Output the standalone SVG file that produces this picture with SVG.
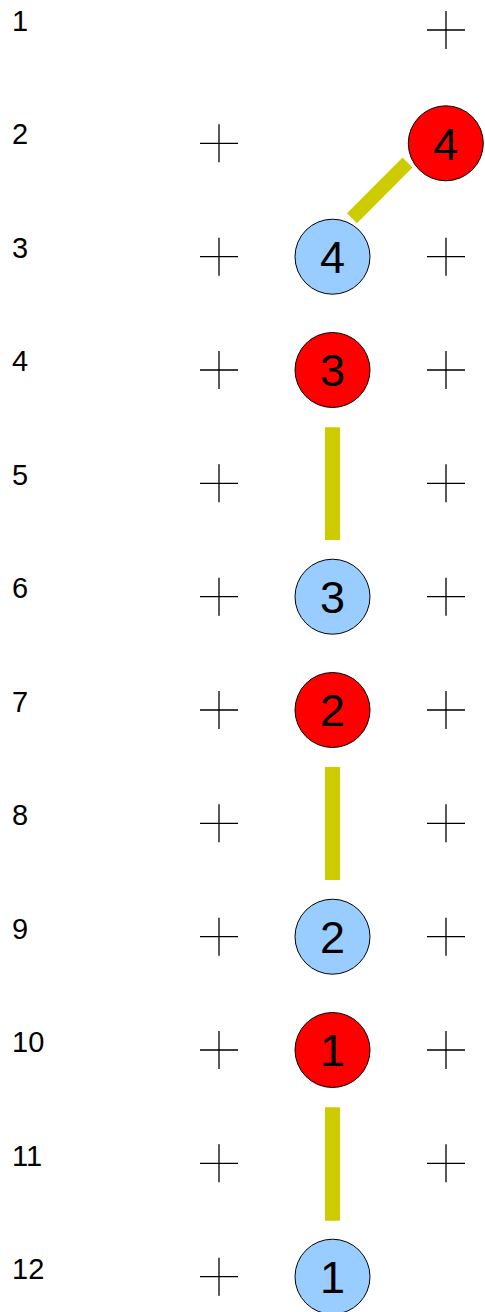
<svg xmlns="http://www.w3.org/2000/svg" width="485" height="1312" viewBox="0 0 485 1312">
<style>
.lbl{font-family:"Liberation Sans",Arial,sans-serif;font-size:29px;fill:#000}
.num{font-family:"Liberation Sans",Arial,sans-serif;font-size:45px;fill:#000;text-anchor:middle}
.red{fill:#ff0000;stroke:#000;stroke-width:1}
.blue{fill:#99ccff;stroke:#000;stroke-width:1}
.cross{stroke:#000;stroke-width:1.3;fill:none}
.bar{stroke:#cccc00;stroke-width:15;stroke-linecap:butt}
</style>
<defs>
<path id="x" d="M-19 0H19M0 -19V19" class="cross"/>
</defs>
<g id="labels">
<text class="lbl" x="12" y="30.7">1</text>
<text class="lbl" x="12" y="144.2">2</text>
<text class="lbl" x="12" y="257.7">3</text>
<text class="lbl" x="12" y="371.2">4</text>
<text class="lbl" x="12" y="484.7">5</text>
<text class="lbl" x="12" y="598.2">6</text>
<text class="lbl" x="12" y="711.7">7</text>
<text class="lbl" x="12" y="825.2">8</text>
<text class="lbl" x="12" y="938.7">9</text>
<text class="lbl" x="12" y="1052.2">10</text>
<text class="lbl" x="12" y="1165.7">11</text>
<text class="lbl" x="12" y="1279.2">12</text>
</g>
<g id="crosses">
<use href="#x" x="446" y="30"/>
<use href="#x" x="219" y="143.3"/>
<use href="#x" x="219" y="256.7"/><use href="#x" x="446" y="256.7"/>
<use href="#x" x="219" y="370"/><use href="#x" x="446" y="370"/>
<use href="#x" x="219" y="483.3"/><use href="#x" x="446" y="483.3"/>
<use href="#x" x="219" y="596.7"/><use href="#x" x="446" y="596.7"/>
<use href="#x" x="219" y="710"/><use href="#x" x="446" y="710"/>
<use href="#x" x="219" y="823.3"/><use href="#x" x="446" y="823.3"/>
<use href="#x" x="219" y="936.7"/><use href="#x" x="446" y="936.7"/>
<use href="#x" x="219" y="1050"/><use href="#x" x="446" y="1050"/>
<use href="#x" x="219" y="1163.3"/><use href="#x" x="446" y="1163.3"/>
<use href="#x" x="219" y="1276.7"/>
</g>
<g id="connectors">
<line class="bar" x1="352" y1="218.3" x2="407.5" y2="162.5" style="stroke-width:14"/>
<line class="bar" x1="332.5" y1="427.3" x2="332.5" y2="540"/>
<line class="bar" x1="332.5" y1="767" x2="332.5" y2="880"/>
<line class="bar" x1="332.5" y1="1107.3" x2="332.5" y2="1220.7"/>
</g>
<g id="red4"><circle class="red" cx="445.8" cy="143.3" r="37.5"/><text class="num" x="445.8" y="159.5">4</text></g>
<g id="blue4"><circle class="blue" cx="332.5" cy="256.7" r="37.5"/><text class="num" x="332.5" y="272.9">4</text></g>
<g id="red3"><circle class="red" cx="332.5" cy="370" r="37.5"/><text class="num" x="332.5" y="386.2">3</text></g>
<g id="blue3"><circle class="blue" cx="332.5" cy="596.7" r="37.5"/><text class="num" x="332.5" y="612.9">3</text></g>
<g id="red2"><circle class="red" cx="332.5" cy="710" r="37.5"/><text class="num" x="332.5" y="726.2">2</text></g>
<g id="blue2"><circle class="blue" cx="332.5" cy="936.7" r="37.5"/><text class="num" x="332.5" y="952.9">2</text></g>
<g id="red1"><circle class="red" cx="332.5" cy="1050" r="37.5"/><text class="num" x="332.5" y="1066.2">1</text></g>
<g id="blue1"><circle class="blue" cx="332.5" cy="1276.7" r="37.5"/><text class="num" x="332.5" y="1292.9">1</text></g>
</svg>
